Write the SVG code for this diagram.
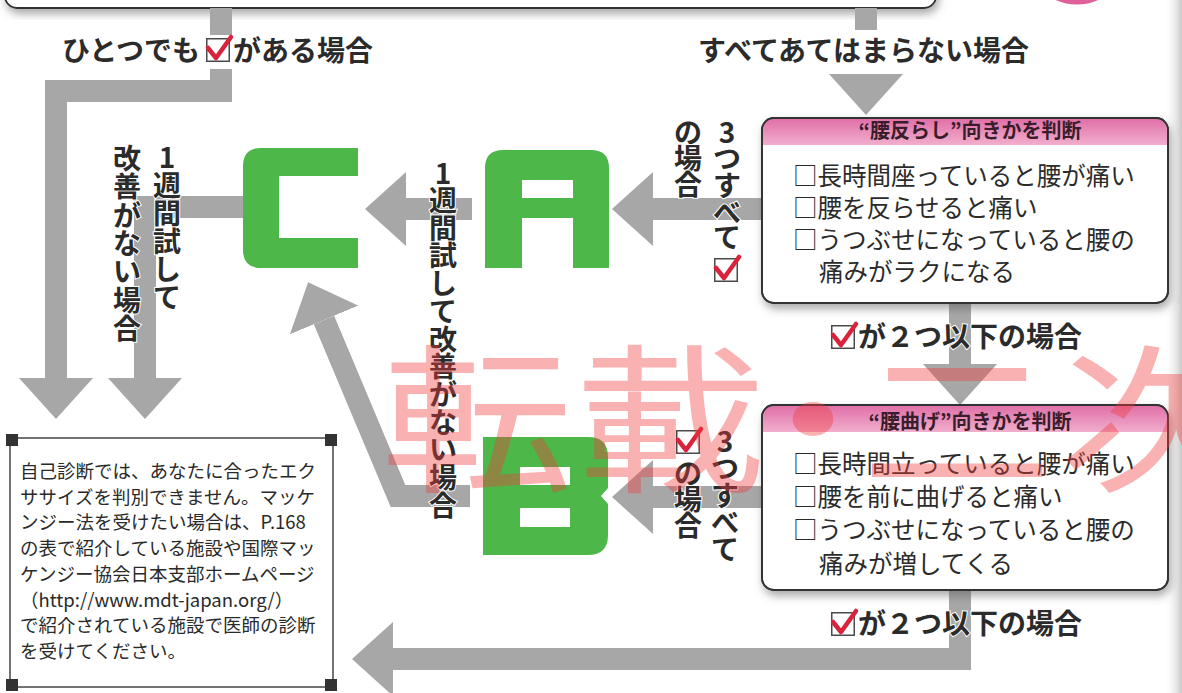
<svg xmlns="http://www.w3.org/2000/svg" width="1182" height="693" viewBox="0 0 1182 693">
<defs>
<style>
.conn path{fill:none;stroke:#a7a7a7;stroke-width:22;stroke-linejoin:miter;marker-end:url(#ah)}
.lbl{font-family:"Noto Sans CJK JP","Noto Sans CJK SC",sans-serif;font-size:28px;font-weight:700;fill:#2b2b2b;stroke:#fff;stroke-width:2px;paint-order:stroke}
.v{text-anchor:middle}
.box{fill:#fff;stroke:#333;stroke-width:1.8}
.hdr{fill:url(#hg)}
.hd{font-family:"Noto Sans CJK JP","Noto Sans CJK SC",sans-serif;font-size:20px;font-weight:700;fill:#3a1d2a;text-anchor:middle}
.body{font-family:"Noto Sans CJK JP","Noto Sans CJK SC",sans-serif;font-size:24.5px;fill:#2b2b2b}
.note{font-family:"Noto Sans CJK JP","Noto Sans CJK SC",sans-serif;font-size:18.5px;fill:#2a2a2a}
.letter{fill:#4db749;fill-rule:evenodd}
.wm{font-family:"Noto Sans CJK JP","Noto Sans CJK SC",sans-serif;font-size:160px;font-weight:400;fill:#f03c3c;fill-opacity:0.4;text-anchor:middle}
.corner{fill:#333}
</style>
<filter id="sh" x="-5%" y="-10%" width="115%" height="135%">
<feDropShadow dx="2" dy="5" stdDeviation="4" flood-color="#555" flood-opacity="0.5"/>
</filter>
<linearGradient id="hg" x1="0" y1="0" x2="0" y2="1">
<stop offset="0" stop-color="#e070a8"/>
<stop offset="1" stop-color="#f1aecd"/>
</linearGradient>
<linearGradient id="edge" x1="0" y1="0" x2="1" y2="0">
<stop offset="0" stop-color="#ffffff" stop-opacity="0"/>
<stop offset="1" stop-color="#c8c8c8"/>
</linearGradient>
<marker id="ah" markerUnits="userSpaceOnUse" markerWidth="41" markerHeight="74" viewBox="0 0 41 74" refX="0" refY="37" orient="auto">
<path d="M0,0 L41,37 L0,74 Z" fill="#a7a7a7"/>
</marker>
<g id="chk">
<rect x="0.75" y="0.75" width="22.5" height="22.5" fill="#fff" stroke="#4a4a4a" stroke-width="1.5"/>
<path d="M2,10 L10,20 L25,-1" fill="none" stroke="#d9233d" stroke-width="4.5" stroke-linecap="round" stroke-linejoin="round"/>
</g>
</defs>

<rect width="1182" height="693" fill="#fff"/>
<rect x="1164" y="0" width="18" height="693" fill="url(#edge)"/>

<g id="top-box">
<rect x="5" y="-40" width="931" height="48" rx="12" class="box" filter="url(#sh)"/>
</g>
<g id="top-circle">
<circle cx="1077" cy="-46" r="48" fill="#fff" stroke="#e0609c" stroke-width="5"/>
</g>

<g id="connectors" class="conn">
<path d="M221,8 V91 H56 V378"/>
<path d="M243,207 H145 V378"/>
<path d="M866,8 V74"/>
<path d="M762,209 H653"/>
<path d="M472,209 H406"/>
<path d="M960,303 V364"/>
<path d="M762,497 H653"/>
<path d="M470,496 H398 L324,320"/>
<path d="M960,590 V659 H393"/>
</g>

<g id="label-any">
<rect x="200" y="35" width="40" height="34" fill="#fff"/>
<text class="lbl" x="62" y="61">ひとつでも</text>
<use href="#chk" x="206" y="38"/>
<text class="lbl" x="233" y="61">がある場合</text>
</g>

<g id="label-none">
<rect x="848" y="30" width="36" height="44" fill="#fff"/>
<text class="lbl" x="698" y="61">すべてあてはまらない場合</text>
</g>

<g id="node-C">
<path class="letter" d="M358,148 H261 Q243,148 243,166 V250 Q243,268 261,268 H358 V238 H279 V176 H358 Z"/>
</g>
<g id="node-A">
<path class="letter" d="M485,268 V168 Q485,150 503,150 H591 Q609,150 609,168 V268 H573 V218 H522 V268 Z M522,180 H573 V198 H522 Z"/>
</g>
<g id="node-B">
<path class="letter" d="M483,437 H588 Q608,437 608,457 V488 L601,496 L608,504 V535 Q608,555 588,555 H483 Z M520,467 H570 V485 H520 Z M520,508 H570 V527 H520 Z"/>
</g>

<g id="label-left-week">
<text class="lbl v" x="167 167 167 167 167 167" y="168 196 224 252 280 308">1週間試して</text>
<text class="lbl v" x="127 127 127 127 127 127 127" y="169 197 226 254 282 311 339">改善がない場合</text>
</g>
<g id="label-mid-week">
<text class="lbl v" x="443 443 443 443 443 443 443 443 443 443 443 443 443" y="184 211 239 266 294 322 350 377 405 433 460 488 516">1週間試して改善がない場合</text>
</g>
<g id="label-all3-a">
<text class="lbl v" x="727 727 727 727 727" y="143 169 196 223 248">3つすべて</text>
<use href="#chk" x="714" y="258"/>
<text class="lbl v" x="688 688 688" y="143 169 195">の場合</text>
</g>
<g id="label-all3-b">
<text class="lbl v" x="725 725 725 725 725" y="452 479 506 533 560">3つすべて</text>
<use href="#chk" x="676" y="430"/>
<text class="lbl v" x="688 688 688" y="484 510 536">の場合</text>
</g>

<g id="box-sorashi">
<rect x="762" y="118" width="406" height="185" rx="12" class="box" filter="url(#sh)"/>
<path class="hdr" d="M763,130 Q763,119 774,119 H1156 Q1167,119 1167,130 V145 H763 Z"/>
<rect x="762" y="118" width="406" height="185" rx="12" fill="none" stroke="#333" stroke-width="1.8"/>
<text class="hd" x="970" y="138">“腰反らし”向きかを判断</text>
<text class="body" x="793" y="185">□長時間座っていると腰が痛い</text>
<text class="body" x="793" y="217">□腰を反らせると痛い</text>
<text class="body" x="793" y="249">□うつぶせになっていると腰の</text>
<text class="body" x="819" y="281">痛みがラクになる</text>
</g>

<g id="label-two-a">
<use href="#chk" x="831" y="325"/>
<text class="lbl" x="858" y="347">が２つ以下の場合</text>
</g>

<g id="box-mage">
<rect x="762" y="405" width="406" height="185" rx="12" class="box" filter="url(#sh)"/>
<path class="hdr" d="M763,417 Q763,406 774,406 H1156 Q1167,406 1167,417 V432 H763 Z"/>
<rect x="762" y="405" width="406" height="185" rx="12" fill="none" stroke="#333" stroke-width="1.8"/>
<text class="hd" x="970" y="429">“腰曲げ”向きかを判断</text>
<text class="body" x="793" y="473">□長時間立っていると腰が痛い</text>
<text class="body" x="793" y="506">□腰を前に曲げると痛い</text>
<text class="body" x="793" y="539">□うつぶせになっていると腰の</text>
<text class="body" x="819" y="573">痛みが増してくる</text>
</g>

<g id="label-two-b">
<use href="#chk" x="831" y="612"/>
<text class="lbl" x="858" y="634">が２つ以下の場合</text>
</g>

<g id="note">
<rect x="10" y="438" width="323" height="249" fill="#fff" stroke="#444" stroke-width="1.5"/>
<rect class="corner" x="6" y="434" width="12" height="12"/>
<rect class="corner" x="325" y="434" width="12" height="12"/>
<rect class="corner" x="6" y="679" width="12" height="12"/>
<rect class="corner" x="325" y="679" width="12" height="12"/>
<text class="note" x="20" y="478">自己診断では、あなたに合ったエク</text>
<text class="note" x="20" y="504">ササイズを判別できません。マッケ</text>
<text class="note" x="20" y="529">ンジー法を受けたい場合は、P.168</text>
<text class="note" x="20" y="555">の表で紹介している施設や国際マッ</text>
<text class="note" x="20" y="581">ケンジー協会日本支部ホームページ</text>
<text class="note" x="20" y="607">（http://www.mdt-japan.org/）</text>
<text class="note" x="20" y="632">で紹介されている施設で医師の診断</text>
<text class="note" x="20" y="658">を受けてください。</text>
</g>

<g id="watermark">
<text class="wm" transform="scale(1.2,1)" x="397.5 558.3 677.5 797.5 962.5" y="480">転載・二次</text>
</g>
</svg>
